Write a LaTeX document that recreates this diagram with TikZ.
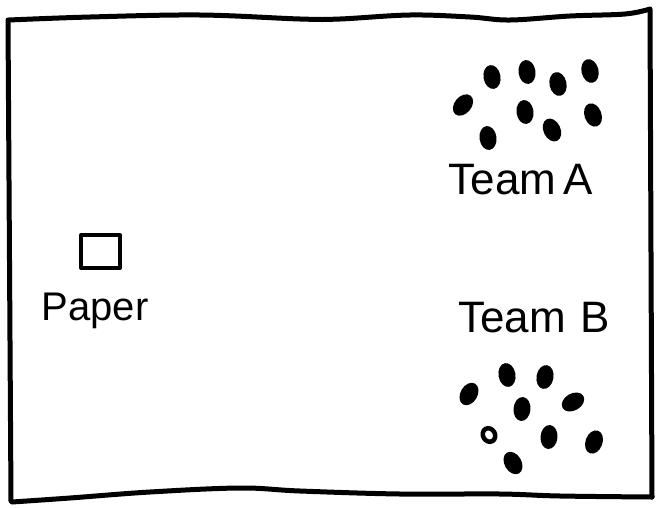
\documentclass[tikz,border=0pt]{standalone}
\usepackage{fontspec}
\setmainfont{Liberation Sans}
\usetikzlibrary{shapes.geometric}
\tikzstyle{border} = [line width=5pt, line join=round, line cap=round]
\tikzstyle{teamdot} = [ellipse, fill=black, minimum width=17pt, minimum height=24pt, inner sep=0pt]
\tikzstyle{label} = [font=\fontsize{44}{48}\selectfont, inner sep=0pt]

\begin{document}
\begin{tikzpicture}[x=1pt, y=-1pt]
    \useasboundingbox (0,0) rectangle (659,507);
    % frame
    \draw[border] plot[smooth, tension=0.6] coordinates {(9,20) (90,17) (200,15) (300,19) (340,19) (410,15) (470,17) (510,20) (570,16) (625,14) (650,9)};
    \draw[border] (650,10) -- (652,497);
    \draw[border] plot[smooth, tension=0.6] coordinates {(652,497) (560,496) (500,494) (400,494) (300,491) (240,488) (150,492) (70,498) (12,502)};
    \draw[border] (11,501) -- (8,20);
    % paper
    \draw[border, line width=4pt] (81,235) rectangle (120,268);
    \node[label, font=\fontsize{40}{44}\selectfont] (paper) at (95,311) {Paper};
    % team A
    \foreach \n/\x/\y/\r in {a1/492/77/10, a2/527/72/8, a3/558/84/12, a4/590/71/14,
        a5/463/105/-40, a6/525/112/8, a7/593/115/20, a8/488/138/8, a9/552/130/25}
      \node[teamdot, rotate=\r] (\n) at (\x,\y) {};
    \node[label] (teamA) at (521,180) {Team\,A};
    % team B
    \node[label] (teamB) at (534,318) {Team\,\,B};
    \foreach \n/\x/\y/\r in {b1/469/394/-30, b2/507/375/10, b3/545/377/-10, b4/522/409/-5,
        b5/573/402/-60, b7/549/437/-5, b8/594/442/-20, b9/513/463/30}
      \node[teamdot, rotate=\r] (\n) at (\x,\y) {};
    \node[ellipse, draw, line width=4.5pt, minimum width=12pt, minimum height=14pt, inner sep=0pt, rotate=30] (b6) at (489,435) {};
  \end{tikzpicture}
\end{document}
